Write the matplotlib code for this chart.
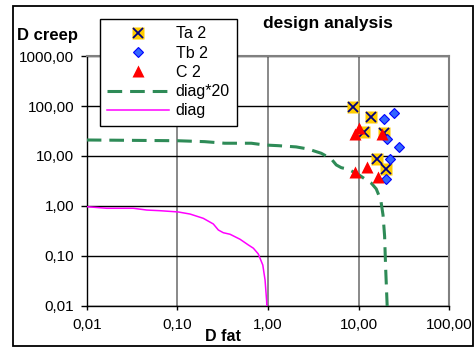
import matplotlib
matplotlib.use('Agg')
import matplotlib.pyplot as plt
from matplotlib.ticker import FixedLocator, FuncFormatter, NullLocator
from matplotlib.legend_handler import HandlerTuple
from matplotlib.patches import Rectangle

plt.rcParams['font.family'] = ['Liberation Sans', 'DejaVu Sans']

# damage points (fatigue, creep)
ta2_fat = [8.55, 13.5, 11.5, 19.0, 15.8, 19.9]
ta2_creep = [94.0, 59.0, 29.8, 28.4, 8.6, 5.5]
tb2_fat = [19.0, 24.7, 20.7, 27.9, 22.2, 20.0]
tb2_creep = [55.0, 73.0, 22.0, 14.9, 8.8, 3.5]
c2_fat = [10.1, 9.2, 17.9, 12.4, 9.2, 16.5]
c2_creep = [36.0, 28.0, 27.0, 6.1, 4.8, 3.75]

# design envelope
diag_fat = [0.0005, 0.001, 0.005, 0.01, 0.0166, 0.0327, 0.0459, 0.0644, 0.102,
            0.138, 0.193, 0.249, 0.283, 0.321, 0.381, 0.491, 0.607, 0.689,
            0.780, 0.875, 0.927, 0.965, 0.99, 1.03]
diag_creep = [1.045, 1.035, 1.01, 0.968, 0.90, 0.90, 0.83, 0.805, 0.76,
              0.69, 0.567, 0.437, 0.331, 0.292, 0.272, 0.216, 0.166, 0.143,
              0.11, 0.066, 0.033, 0.0125, 0.003, 0.0005]
factor = 20
diag20_fat = [v * factor for v in diag_fat]
diag20_creep = [v * factor for v in diag_creep]

fig = plt.figure(figsize=(4.77, 3.47), dpi=100)
ax = fig.add_axes([0.1818, 0.1182, 0.7603, 0.7204])
ax.set_xscale('log')
ax.set_yscale('log')
ax.set_xlim(0.01, 100)
ax.set_ylim(0.01, 1000)

l20, = ax.plot(diag20_fat, diag20_creep, color='#2E8B57', lw=2.2,
               dashes=(4.8, 2.6), dash_capstyle='butt', zorder=3)
l1, = ax.plot(diag_fat, diag_creep, color='#FF00FF', lw=1.1, zorder=3)

sq, = ax.plot(ta2_fat, ta2_creep, 's', ms=9, color='#FFCC00', mec='none',
              ls='none', zorder=4)
xx, = ax.plot(ta2_fat, ta2_creep, 'x', ms=7.5, color='#000080', mew=1.3,
              ls='none', zorder=5)
dm, = ax.plot(tb2_fat, tb2_creep, 'D', ms=4.8, color='#3366FF', mec='#0000FF',
              mew=0.8, ls='none', zorder=6)
tr, = ax.plot(c2_fat, c2_creep, '^', ms=8.3, color='#FF0000', mec='none',
              ls='none', zorder=7)

fmt = FuncFormatter(lambda v, p: f"{v:.2f}".replace('.', ','))
ax.xaxis.set_major_locator(FixedLocator([0.01, 0.1, 1, 10, 100]))
ax.yaxis.set_major_locator(FixedLocator([0.01, 0.1, 1, 10, 100, 1000]))
ax.xaxis.set_minor_locator(NullLocator())
ax.yaxis.set_minor_locator(NullLocator())
ax.xaxis.set_major_formatter(fmt)
ax.yaxis.set_major_formatter(fmt)
ax.tick_params(axis='x', direction='out', length=3, width=1, labelsize=11, pad=6)
ax.tick_params(axis='y', direction='out', length=4, width=1, labelsize=11, pad=5)

ax.xaxis.grid(True, color='#808080', lw=1.3)
ax.yaxis.grid(True, color='black', lw=1)
ax.set_axisbelow(True)
for s in ['top', 'right']:
    ax.spines[s].set_color('#808080')
    ax.spines[s].set_linewidth(1.5)
for s in ['left', 'bottom']:
    ax.spines[s].set_color('black')
    ax.spines[s].set_linewidth(1)

fig.text(0.688, 0.9202, 'design analysis', ha='center', va='baseline',
         fontsize=12.5, fontweight='bold')
fig.text(0.0356, 0.8833, 'D creep', ha='left', va='baseline',
         fontsize=12, fontweight='bold')
fig.text(0.4298, 0.0182, 'D fat', ha='left', va='baseline',
         fontsize=11.5, fontweight='bold')

leg = fig.legend([(sq, xx), dm, tr, l20, l1],
                 ['Ta 2', 'Tb 2', 'C 2', 'diag*20', 'diag'],
                 handler_map={tuple: HandlerTuple(ndivide=1)},
                 loc='upper left', bbox_to_anchor=(100 / 477, 1 - 19 / 347),
                 bbox_transform=fig.transFigure, borderaxespad=0,
                 fontsize=11.5, fancybox=False, edgecolor='black', framealpha=1,
                 borderpad=0.45, labelspacing=0.27, handlelength=3.9,
                 handletextpad=0.4)
leg.get_frame().set_linewidth(1)

fig.patches.append(Rectangle((13 / 477, 1 - 346 / 347), 460 / 477, 340 / 347,
                             transform=fig.transFigure, fill=False,
                             ec='black', lw=1.3))

fig.savefig('out.png', dpi=100)
